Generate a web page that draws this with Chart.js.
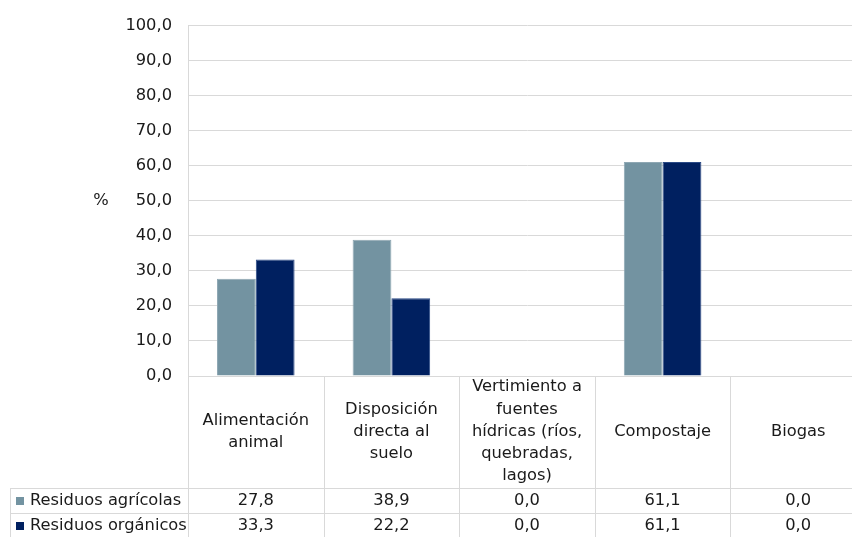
<!DOCTYPE html>
<html lang="es">
<head>
<meta charset="utf-8">
<script src="https://cdn.jsdelivr.net/npm/chart.js@4/dist/chart.umd.min.js"></script>
<style>
  html, body { margin: 0; padding: 0; background: #fff; overflow: hidden; }
  #wrap { width: 852px; height: 537px; overflow: hidden; }
  canvas { display: block; }
</style>
</head>
<body>
<div id="wrap"><canvas id="chart" width="866" height="537"></canvas></div>
<script>
// Destino de los residuos (%)
const categories = [
  ['Alimentación', 'animal'],
  ['Disposición', 'directa al', 'suelo'],
  ['Vertimiento a', 'fuentes', 'hídricas (ríos,', 'quebradas,', 'lagos)'],
  'Compostaje',
  'Biogas'
];
const seriesNames = ['Residuos agrícolas', 'Residuos orgánicos'];
const agricolas = [27.8, 38.9, 0.0, 61.1, 0.0];
const organicos = [33.3, 22.2, 0.0, 61.1, 0.0];
const seriesColors = ['#7393a1', '#002060'];
const seriesBorders = ['#8ea7b3', '#2a4a86'];
const yMin = 0, yMax = 100, yStep = 10;
const yTitle = '%';

const FONT = "'DejaVu Sans', 'Verdana', sans-serif";
const FONT_SIZE = 16.3;
const GRID = '#d9d9d9';
const TEXT = '#1a1a1a';

const fmt = v => Number(v).toFixed(1).replace('.', ',');

// Header band under the plot (category names) and the two data rows
const HEADER_H = 112;
const ROW_H = 25;
const TABLE_LEFT = 10;

const dataTable = {
  id: 'dataTable',
  afterDraw(chart) {
    const { ctx, chartArea, scales } = chart;
    const x = scales.x;
    const n = categories.length;
    const cw = (x.right - x.left) / n;
    const bottom = chart.height;
    const rowTop = chartArea.bottom + HEADER_H;
    const rows = [agricolas, organicos];

    ctx.save();
    ctx.strokeStyle = GRID;
    ctx.lineWidth = 1;
    ctx.beginPath();
    for (let i = 0; i <= n; i++) {
      const bx = Math.round(x.left + i * cw) + 0.5;
      ctx.moveTo(bx, i === 0 ? chartArea.top : chartArea.bottom);
      ctx.lineTo(bx, bottom);
    }
    for (let r = 0; r < rows.length; r++) {
      const ly = Math.round(rowTop + r * ROW_H) + 0.5;
      ctx.moveTo(TABLE_LEFT, ly);
      ctx.lineTo(x.right, ly);
    }
    ctx.moveTo(TABLE_LEFT + 0.5, rowTop);
    ctx.lineTo(TABLE_LEFT + 0.5, bottom);
    ctx.stroke();

    ctx.font = FONT_SIZE + 'px ' + FONT;
    ctx.textBaseline = 'middle';
    rows.forEach((vals, r) => {
      const cy = rowTop + r * ROW_H + ROW_H / 2;
      ctx.fillStyle = seriesColors[r];
      ctx.fillRect(TABLE_LEFT + 6, Math.round(cy - 4), 8, 8);
      ctx.fillStyle = TEXT;
      ctx.textAlign = 'left';
      ctx.fillText(seriesNames[r], TABLE_LEFT + 20, cy);
      ctx.textAlign = 'center';
      vals.forEach((v, i) => {
        ctx.fillText(fmt(v), x.getPixelForValue(i), cy);
      });
    });

    // vertical axis title, written horizontally
    ctx.textAlign = 'center';
    ctx.fillText(yTitle, 101, (chartArea.top + chartArea.bottom) / 2);
    ctx.restore();
  }
};

new Chart(document.getElementById('chart'), {
  type: 'bar',
  data: {
    labels: categories,
    datasets: [
      { label: seriesNames[0], data: agricolas, backgroundColor: seriesColors[0], borderColor: seriesBorders[0], borderWidth: 1 },
      { label: seriesNames[1], data: organicos, backgroundColor: seriesColors[1], borderColor: seriesBorders[1], borderWidth: 1 }
    ]
  },
  options: {
    responsive: false,
    animation: false,
    devicePixelRatio: 1,
    layout: { padding: { top: 24, right: 0, bottom: 0, left: 0 } },
    datasets: { bar: { categoryPercentage: 0.572, barPercentage: 1.0 } },
    plugins: {
      legend: { display: false },
      tooltip: { enabled: false }
    },
    scales: {
      x: {
        grid: { display: false },
        border: { display: true, color: GRID },
        ticks: {
          autoSkip: false,
          maxRotation: 0,
          minRotation: 0,
          crossAlign: 'center',
          padding: 3,
          color: TEXT,
          font: { family: FONT, size: FONT_SIZE, lineHeight: '22.3px' }
        },
        afterFit(scale) { scale.height = 537 - 376; }
      },
      y: {
        min: yMin,
        max: yMax,
        grid: { color: GRID, drawTicks: false },
        border: { display: true, color: GRID },
        ticks: {
          stepSize: yStep,
          padding: 16,
          color: TEXT,
          font: { family: FONT, size: FONT_SIZE },
          callback: v => fmt(v)
        },
        afterFit(scale) { scale.width = 188; }
      }
    }
  },
  plugins: [dataTable]
});
</script>
</body>
</html>
